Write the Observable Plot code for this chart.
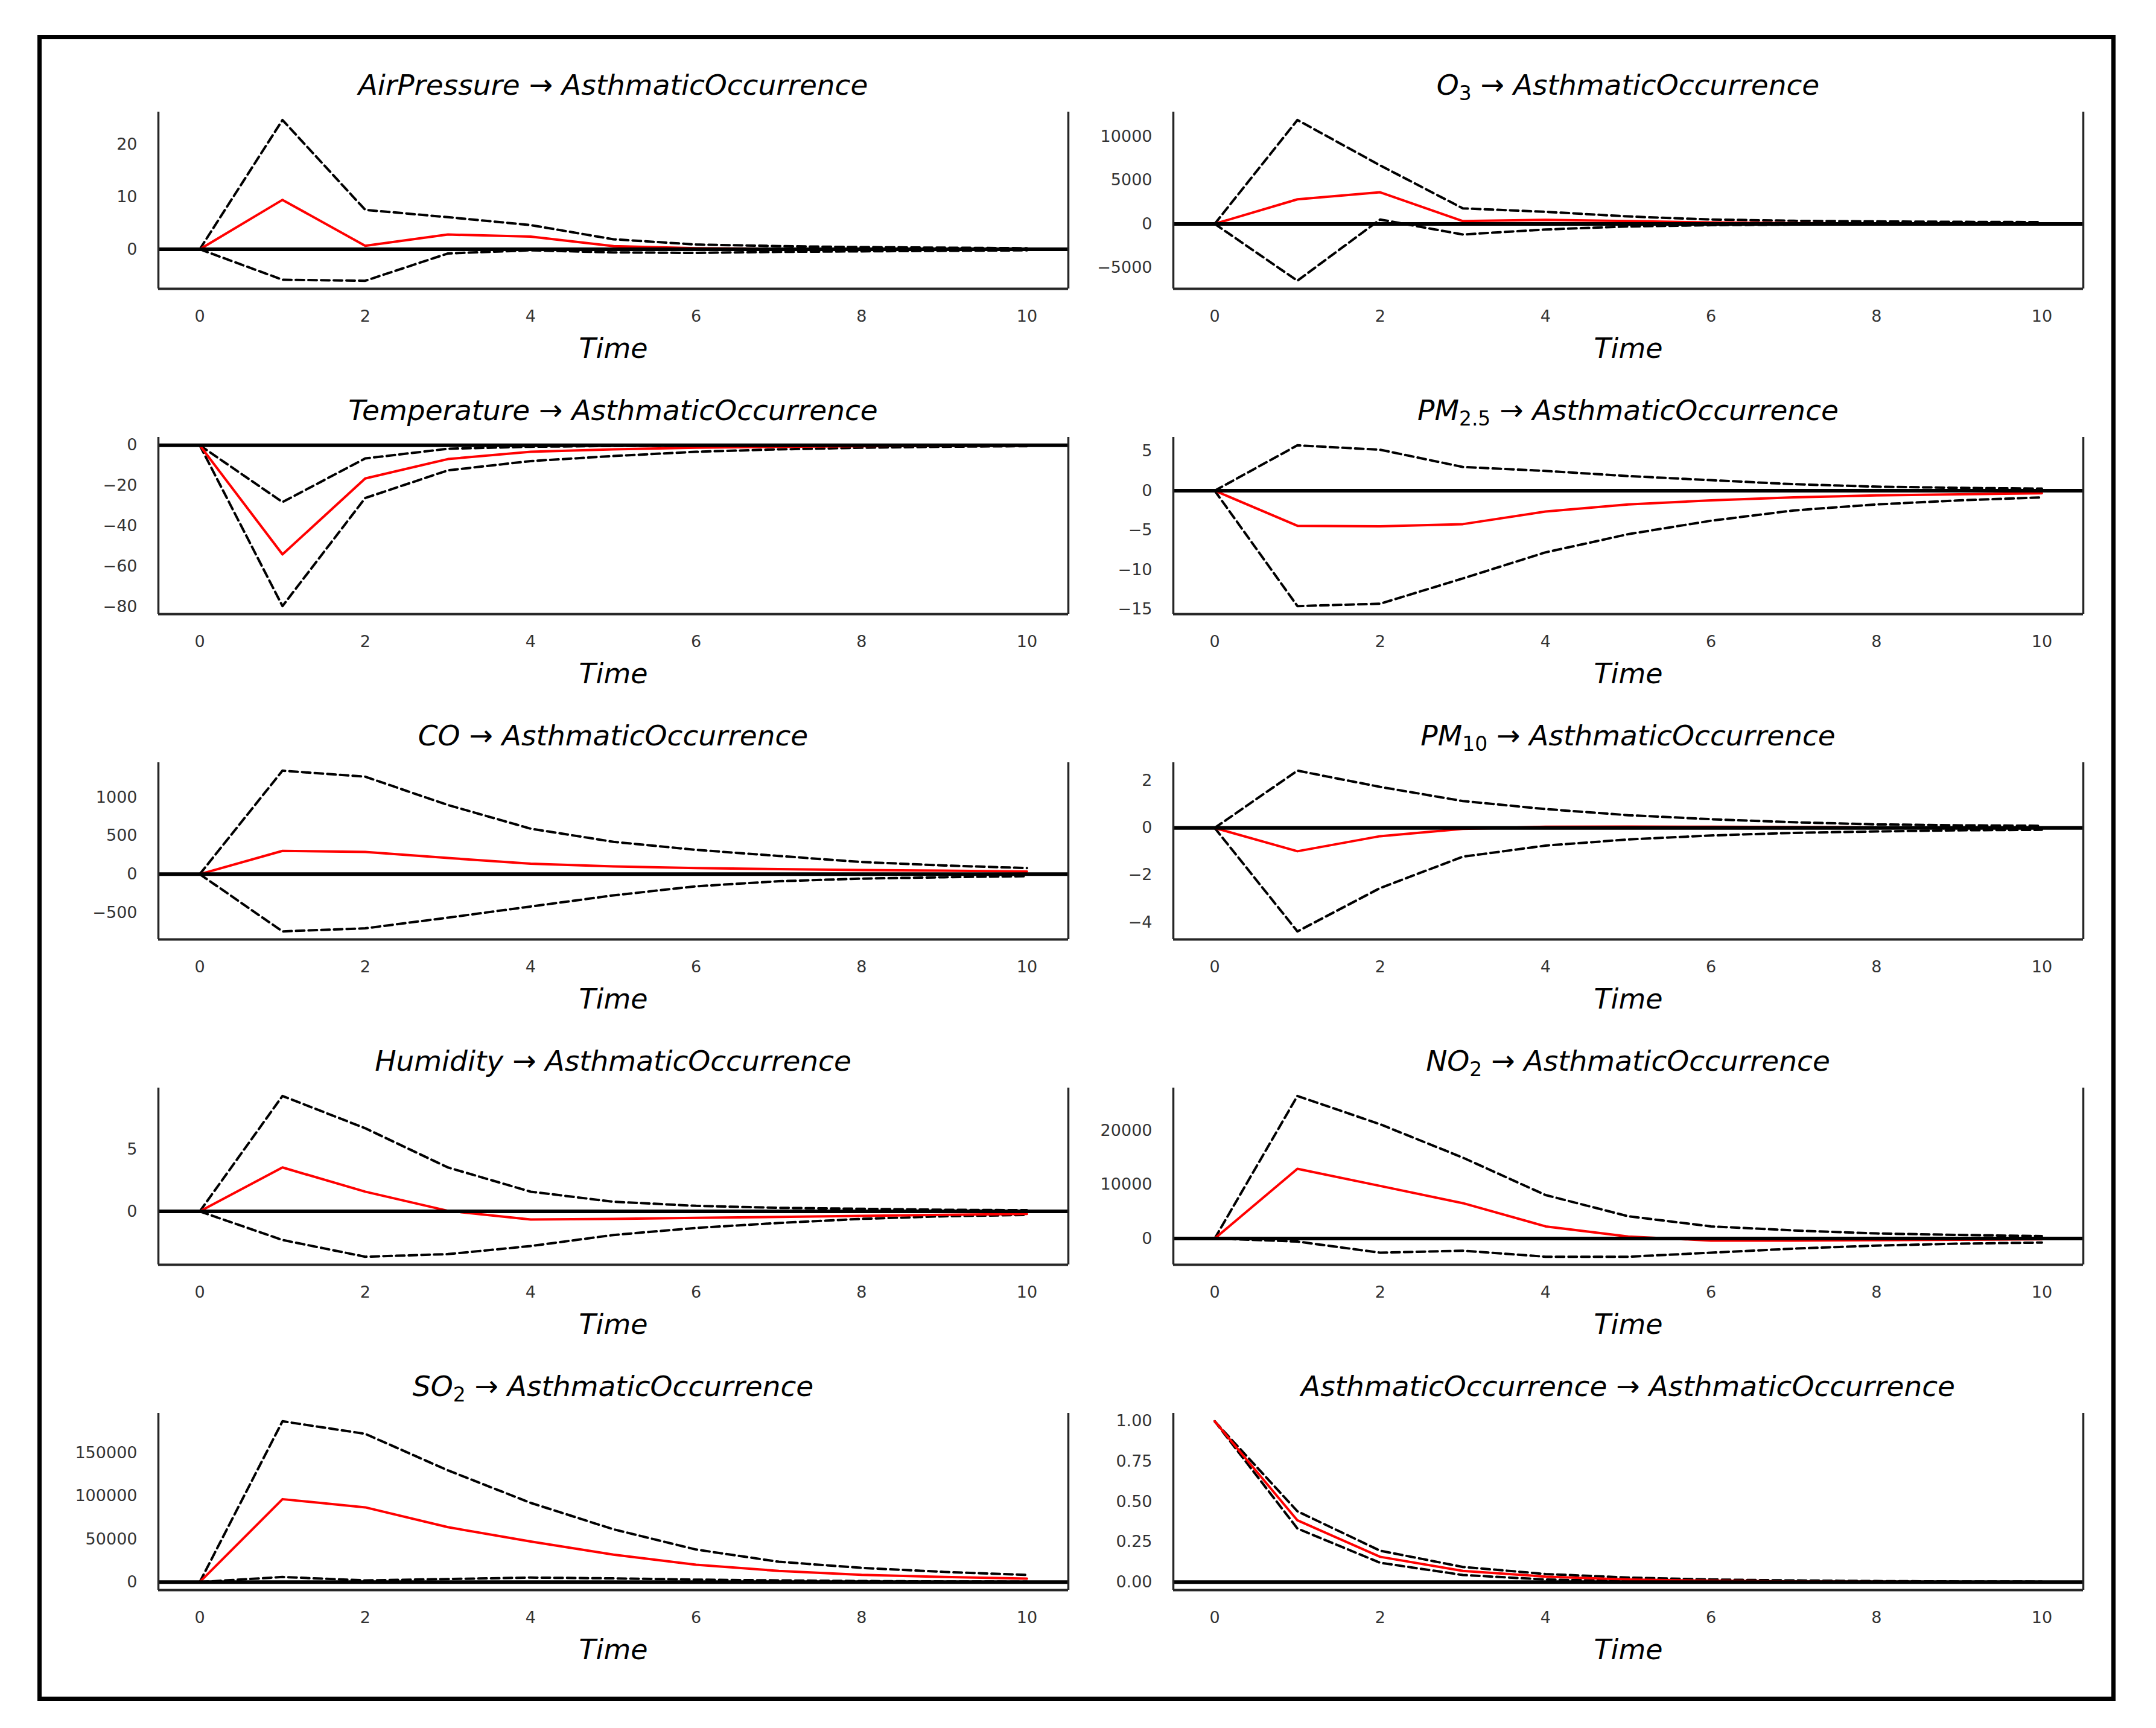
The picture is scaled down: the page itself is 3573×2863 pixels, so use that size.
<!DOCTYPE html>
<html>
<head>
<meta charset="utf-8">
<script src="https://cdn.jsdelivr.net/npm/d3@7"></script>
<script src="https://cdn.jsdelivr.net/npm/@observablehq/plot@0.6"></script>
<style>
  html, body { margin: 0; padding: 0; background: white; }
  #page { position: relative; width: 3573px; height: 2863px; background: white; overflow: hidden; }
  #border { position: absolute; left: 62px; top: 58px; width: 3430px; height: 2746px; border: 7px solid black; }
  .title { position: absolute; font-family: "DejaVu Sans", sans-serif; font-style: italic; font-size: 47px; line-height: 46px; color: black; text-align: center; white-space: nowrap; }
  .title sub { font-size: 0.7em; line-height: 0; vertical-align: -0.28em; font-style: normal; }
  .panel { position: absolute; }
</style>
</head>
<body>
<div id="page"><div id="border"></div></div>
<script>
// ---- data ----
const steps = [0, 1, 2, 3, 4, 5, 6, 7, 8, 9, 10];
const xTicks = [0, 2, 4, 6, 8, 10];

const airPressureIrf   = [0, 9.4, 0.65, 2.8, 2.4, 0.6, 0.2, 0.1, 0.05, 0.03, 0.02];
const airPressureLower = [0, -5.8, -6.0, -0.8, -0.2, -0.6, -0.7, -0.5, -0.4, -0.3, -0.2];
const airPressureUpper = [0, 24.6, 7.5, 6.1, 4.6, 1.9, 0.9, 0.6, 0.4, 0.3, 0.2];

const o3Irf   = [0, 2810, 3620, 320, 460, 320, 160, 80, 40, 20, 10];
const o3Lower = [0, -6520, 500, -1220, -645, -300, -150, -80, -50, -30, -20];
const o3Upper = [0, 11900, 6700, 1775, 1380, 850, 500, 350, 280, 230, 200];

const temperatureIrf   = [0, -54, -16.4, -6.8, -3.2, -2.0, -1.2, -0.7, -0.4, -0.2, -0.1];
const temperatureLower = [0, -79.6, -26.1, -12.4, -7.8, -5.3, -3.2, -2.0, -1.2, -0.7, -0.4];
const temperatureUpper = [0, -28.1, -6.5, -1.7, -0.7, -0.3, -0.15, -0.08, -0.04, -0.02, -0.01];

const pm25Irf   = [0, -4.44, -4.5, -4.23, -2.64, -1.74, -1.23, -0.85, -0.59, -0.46, -0.33];
const pm25Lower = [0, -14.6, -14.3, -11.1, -7.8, -5.5, -3.8, -2.5, -1.74, -1.23, -0.85];
const pm25Upper = [0, 5.74, 5.18, 3.0, 2.5, 1.85, 1.33, 0.82, 0.51, 0.36, 0.26];

const coIrf   = [0, 303, 290, 210, 137, 100, 79, 66, 53, 45, 34];
const coLower = [0, -745, -705, -566, -421, -276, -158, -92, -58, -40, -26];
const coUpper = [0, 1347, 1268, 900, 592, 421, 316, 237, 158, 113, 79];

const pm10Irf   = [0, -0.99, -0.35, -0.04, 0.05, 0.06, 0.05, 0.04, 0.02, 0.01, 0.01];
const pm10Lower = [0, -4.39, -2.55, -1.22, -0.75, -0.49, -0.32, -0.21, -0.15, -0.10, -0.08];
const pm10Upper = [0, 2.43, 1.74, 1.14, 0.80, 0.54, 0.37, 0.24, 0.15, 0.11, 0.09];

const humidityIrf   = [0, 3.54, 1.59, 0.05, -0.65, -0.6, -0.52, -0.44, -0.36, -0.28, -0.2];
const humidityLower = [0, -2.3, -3.65, -3.44, -2.79, -1.9, -1.33, -0.93, -0.6, -0.39, -0.28];
const humidityUpper = [0, 9.3, 6.7, 3.54, 1.59, 0.78, 0.45, 0.29, 0.21, 0.13, 0.1];

const no2Irf   = [0, 12920, 9740, 6550, 2250, 375, -375, -375, -300, -220, -150];
const no2Lower = [0, -560, -2620, -2250, -3370, -3370, -2620, -1870, -1310, -940, -750];
const no2Upper = [0, 26400, 21160, 14980, 8050, 4120, 2250, 1500, 940, 670, 450];

const so2Irf   = [0, 96400, 86900, 63800, 47200, 31900, 20100, 13000, 8300, 5900, 4000];
const so2Lower = [0, 5900, 1900, 3500, 5200, 4300, 2800, 1900, 1200, 700, 500];
const so2Upper = [0, 187000, 172400, 129900, 92100, 61400, 37800, 23600, 16500, 11800, 8300];

const asthmaIrf   = [1, 0.384, 0.157, 0.069, 0.034, 0.016, 0.008, 0.004, 0.002, 0.001, 0.0005];
const asthmaLower = [1, 0.333, 0.12, 0.044, 0.016, 0.006, 0.002, 0.001, 0.0005, 0.0002, 0.0001];
const asthmaUpper = [1, 0.44, 0.195, 0.094, 0.05, 0.028, 0.016, 0.01, 0.006, 0.004, 0.003];

// source names: [base, subscript]
const sourceNames = [
  ["AirPressure", ""], ["O", "3"], ["Temperature", ""], ["PM", "2.5"], ["CO", ""],
  ["PM", "10"], ["Humidity", ""], ["NO", "2"], ["SO", "2"], ["AsthmaticOccurrence", ""]
];
const targetName = "AsthmaticOccurrence";
const xLabel = "Time";

const yTicksList = [
  [0, 10, 20],
  [-5000, 0, 5000, 10000],
  [-80, -60, -40, -20, 0],
  [-15, -10, -5, 0, 5],
  [-500, 0, 500, 1000],
  [-4, -2, 0, 2],
  [0, 5],
  [0, 10000, 20000],
  [0, 50000, 100000, 150000],
  [0, 0.25, 0.5, 0.75, 1.0]
];

const seriesList = [
  [airPressureIrf, airPressureLower, airPressureUpper],
  [o3Irf, o3Lower, o3Upper],
  [temperatureIrf, temperatureLower, temperatureUpper],
  [pm25Irf, pm25Lower, pm25Upper],
  [coIrf, coLower, coUpper],
  [pm10Irf, pm10Lower, pm10Upper],
  [humidityIrf, humidityLower, humidityUpper],
  [no2Irf, no2Lower, no2Upper],
  [so2Irf, so2Lower, so2Upper],
  [asthmaIrf, asthmaLower, asthmaUpper]
];

// ---- layout ----
const frameW = 1508, frameH = 293;
const colLeft = [262, 1944];
const rowTop0 = 185, rowPitch = 539;
const mL = 180, mR = 12, mT = 10, mB = 140;

const minus = d => (d < 0 ? "\u2212" : "") + Math.abs(d);
const page = document.getElementById("page");

seriesList.forEach((ser, i) => {
  const col = i % 2, row = Math.floor(i / 2);
  const fx = colLeft[col], fy = rowTop0 + row * rowPitch;
  const [irf, lower, upper] = ser;
  const all = irf.concat(lower, upper);
  const lo0 = d3.min(all), hi0 = d3.max(all);
  const pad = (hi0 - lo0) * 0.05;
  const lo = lo0 - pad, hi = hi0 + pad;
  const toRows = arr => steps.map((t, k) => ({t, v: arr[k]}));
  const fmt = i === 9 ? (d => d.toFixed(2)) : minus;

  const chart = Plot.plot({
    width: frameW + mL + mR,
    height: frameH + mT + mB,
    marginLeft: mL, marginRight: mR, marginTop: mT, marginBottom: mB,
    x: {domain: [-0.5, 10.5], axis: null},
    y: {domain: [lo, hi], axis: null},
    style: {background: "transparent", overflow: "visible", fontFamily: "DejaVu Sans, sans-serif", color: "#333", maxWidth: "none"},
    marks: [
      Plot.axisX({ticks: xTicks, tickSize: 0, tickPadding: 35, fontSize: 27, label: null, tickFormat: d => String(d)}),
      Plot.axisY({ticks: yTicksList[i], tickSize: 0, tickPadding: 35, fontSize: 27, label: null, tickFormat: fmt}),
      Plot.line(toRows(lower), {x: "t", y: "v", stroke: "black", strokeWidth: 4, strokeDasharray: "14,7"}),
      Plot.line(toRows(upper), {x: "t", y: "v", stroke: "black", strokeWidth: 4, strokeDasharray: "14,7"}),
      Plot.line(toRows(irf), {x: "t", y: "v", stroke: "red", strokeWidth: 4}),
      Plot.ruleY([0], {stroke: "black", strokeWidth: 6}),
      Plot.ruleX([-0.5, 10.5], {stroke: "#262626", strokeWidth: 3.5}),
      Plot.ruleY([lo], {stroke: "#262626", strokeWidth: 4}),
      Plot.text([xLabel], {frameAnchor: "bottom", text: d => d, dy: 100, fontSize: 46, fontStyle: "italic", lineAnchor: "middle", fill: "black"})
    ]
  });
  const wrap = document.createElement("div");
  wrap.className = "panel";
  wrap.style.left = (fx - mL) + "px";
  wrap.style.top = (fy - mT) + "px";
  wrap.appendChild(chart);
  page.appendChild(wrap);

  const title = document.createElement("div");
  title.className = "title";
  title.style.left = fx + "px";
  title.style.width = frameW + "px";
  title.style.top = (fy - 67) + "px";
  const [base, sub] = sourceNames[i];
  title.innerHTML = base + (sub ? "<sub>" + sub + "</sub>" : "") + " \u2192 " + targetName;
  page.appendChild(title);
});
</script>
</body>
</html>
